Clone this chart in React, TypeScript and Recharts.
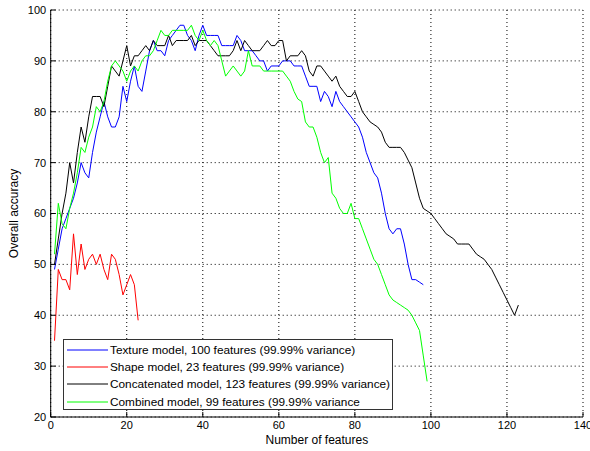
import React from "react";
import { Legend, CartesianGrid, Line, LineChart, XAxis, YAxis } from "recharts";

// accuracy per number of features (feature count = index + 1)
const textureAcc = [
  49, 53, 57, 59, 61, 63, 66, 70, 68, 67, 72, 76, 79, 82, 79, 77, 77, 79, 85, 82,
  86, 89, 85, 84, 88, 92, 94, 92, 92, 91, 94, 95, 96, 97, 97, 95, 94, 92, 95, 97,
  95, 95, 95, 95, 93, 93, 93, 93, 95, 94, 92, 92, 92, 91, 90, 90, 88, 89, 89, 89,
  90, 90, 90, 89, 89, 89, 87, 85, 85, 85, 82, 84, 83, 81, 84, 82, 81, 80, 79, 78,
  77, 75, 72, 70, 68, 67, 64, 60, 57, 56, 57, 57, 54, 50, 47, 47, 46.5, 46,
];

const shapeAcc = [
  35, 49, 47, 47, 45, 56, 48, 54, 49, 51, 52, 50, 52, 49, 47, 52, 51, 48, 44, 46,
  48, 46, 39,
];

const concatAcc = [
  50, 55, 60, 64, 70, 66, 72, 77, 74, 79, 83, 83, 83, 81, 85, 89, 88, 87, 90, 93,
  89, 91, 91, 92, 93, 92, 94, 93, 93, 93, 95, 93, 94, 94, 94, 94, 95, 93, 94, 94,
  94, 93, 92, 91, 91, 91, 91, 92, 94, 92, 94, 93, 92, 92, 92, 93, 94, 93, 93, 94,
  94, 90, 91, 91, 91, 92, 91, 88, 87, 89, 89, 88, 87, 86, 87, 85, 84, 83, 83, 84,
  82, 80, 79, 78, 77.5, 77, 76, 74, 73, 73, 73, 73, 72, 70.5, 69, 66, 63, 61, 60.5, 60,
  59, 58, 57, 56, 55.5, 55, 54, 54, 54, 54, 53, 52, 51.5, 51, 50, 49, 47.5, 46, 44.5, 43,
  41.5, 40, 42,
];

const combinedAcc = [
  52, 62, 58, 57, 61, 64, 68, 73, 72, 75, 77, 81, 80, 82, 86, 89, 90, 89, 88, 86,
  88, 89, 88, 90, 91, 91, 92, 94, 96, 95, 95, 96, 96, 96, 96, 96, 97, 95, 94, 96,
  94, 93, 94, 93, 90, 87, 88, 89, 88, 87, 88, 92, 89, 89, 89, 88, 88, 88, 88, 88,
  88, 87, 86, 84, 82.5, 82, 78, 77, 77, 75, 72, 70, 71, 64, 63, 61, 60, 60, 62, 59,
  59, 57, 55, 53, 51, 50, 48, 46, 44, 43, 42.5, 42, 41.5, 41, 40, 38.5, 37, 32, 27,
];

const xTicks = [0, 20, 40, 60, 80, 100, 120, 140];
const yTicks = [20, 30, 40, 50, 60, 70, 80, 90, 100];

const series = [
  { name: "Texture model, 100 features (99.99% variance)", color: "#0000ff", values: textureAcc },
  { name: "Shape model, 23 features (99.99% variance)", color: "#ff0000", values: shapeAcc },
  { name: "Concatenated model, 123 features (99.99% variance)", color: "#000000", values: concatAcc },
  { name: "Combined model, 99 features (99.99% variance", color: "#00ff00", values: combinedAcc },
];

const toPoints = (values: number[]) => values.map((v, i) => ({ n: i + 1, acc: v }));

const FONT = "'Liberation Sans', Arial, Helvetica, sans-serif";
const tickStyle = { fontSize: 11, fill: "#000", fontFamily: FONT };

const LegendBox = () => (
  <div
    style={{
      width: 330,
      height: 71,
      boxSizing: "border-box",
      border: "1px solid #333",
      background: "#fff",
      paddingTop: 1,
      fontFamily: FONT,
      fontSize: 11.8,
      color: "#000",
    }}
  >
    {series.map((s) => (
      <div key={s.name} style={{ height: 17.3, display: "flex", alignItems: "center" }}>
        <svg width={43} height={4} style={{ marginLeft: 3 }}>
          <line x1={0} y1={2} x2={41} y2={2} stroke={s.color} strokeWidth={1} />
        </svg>
        <span style={{ whiteSpace: "nowrap" }}>{s.name}</span>
      </div>
    ))}
  </div>
);

export default function App() {
  return (
    <div style={{ position: "absolute", left: 0, top: 0, background: "#fff" }}>
      <LineChart
        width={590}
        height={451}
        margin={{ top: 10, right: 7, bottom: 10, left: 0 }}
      >
        <CartesianGrid stroke="#000" strokeDasharray="1 3" />
        <XAxis
          type="number"
          dataKey="n"
          domain={[0, 140]}
          ticks={xTicks}
          interval={0}
          height={24}
          stroke="#000"
          tickSize={-5}
          tickMargin={9}
          tick={tickStyle}
          allowDataOverflow
          label={{
            content: ({ viewBox }: any) => (
              <text
                x={viewBox.x + viewBox.width / 2}
                y={viewBox.y + 27}
                textAnchor="middle"
                fontSize={12}
                fontFamily={FONT}
                fill="#000"
              >
                Number of features
              </text>
            ),
          }}
        />
        <XAxis
          xAxisId="top"
          orientation="top"
          type="number"
          dataKey="n"
          domain={[0, 140]}
          ticks={xTicks}
          interval={0}
          height={0}
          stroke="#000"
          tickSize={-5}
          tick={false}
        />
        <YAxis
          type="number"
          domain={[20, 100]}
          ticks={yTicks}
          interval={0}
          width={50.7}
          stroke="#000"
          tickSize={-5}
          tickMargin={9.5}
          tick={tickStyle}
          label={{
            content: ({ viewBox }: any) => {
              const cx = viewBox.x + 14;
              const cy = viewBox.y + viewBox.height / 2;
              return (
                <text
                  x={cx}
                  y={cy}
                  transform={`rotate(-90 ${cx} ${cy})`}
                  textAnchor="middle"
                  dominantBaseline="central"
                  fontSize={12}
                  fontFamily={FONT}
                  fill="#000"
                >
                  Overall accuracy
                </text>
              );
            },
          }}
        />
        <YAxis
          yAxisId="right"
          orientation="right"
          type="number"
          domain={[20, 100]}
          ticks={yTicks}
          interval={0}
          width={0}
          stroke="#000"
          tickSize={-5}
          tick={false}
        />
        {series.map((s) => (
          <Line
            key={s.name}
            data={toPoints(s.values)}
            dataKey="acc"
            name={s.name}
            type="linear"
            stroke={s.color}
            strokeWidth={1}
            dot={false}
            activeDot={false}
            isAnimationActive={false}
          />
        ))}
        <Legend
          layout="vertical"
          align="center"
          verticalAlign="middle"
          content={() => <LegendBox />}
          wrapperStyle={{ left: 63, top: 339, width: 330, height: 71 }}
        />
      </LineChart>
    </div>
  );
}
